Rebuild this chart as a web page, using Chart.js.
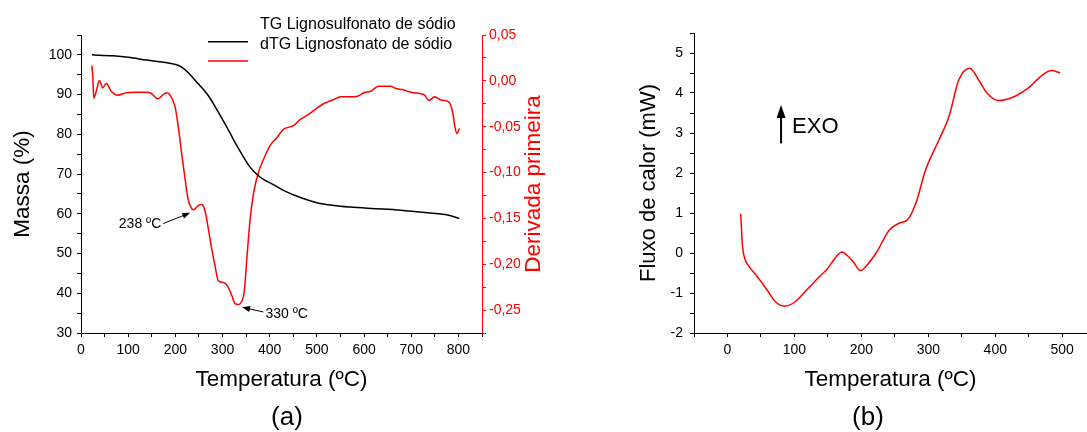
<!DOCTYPE html>
<html>
<head>
<meta charset="utf-8">
<script src="https://cdn.jsdelivr.net/npm/chart.js@4"></script>
<style>
  body { margin: 0; background: #fff; width: 1087px; height: 432px; overflow: hidden; position: relative;
         font-family: "Liberation Sans", Arial, sans-serif; }
  canvas { position: absolute; top: 0; }
  #tga { left: 0; }
  #dsc { left: 560px; }
  .panel { position: absolute; top: 401px; font-size: 26px; line-height: 30px; transform: translateX(-50%); }
</style>
</head>
<body>
<canvas id="tga" width="560" height="432"></canvas>
<canvas id="dsc" width="527" height="432"></canvas>
<div class="panel" style="left:287px">(a)</div>
<div class="panel" style="left:868px">(b)</div>
<script>
const FONT = '"Liberation Sans", Arial, sans-serif';
Chart.defaults.font.family = FONT;
Chart.defaults.color = '#000';

// TG: temperatura (ºC) x massa (%)
const tgTemp = [23, 68, 100, 139, 188, 203, 217, 230, 245, 260, 273, 288, 302, 316, 330, 344, 358, 373, 390, 401,
  429, 465, 500, 536, 570, 607, 640, 678, 706, 740, 777, 802];
const tgMass = [100, 99.75, 99.4, 98.7, 97.9, 97.5, 96.6, 95.2, 93.2, 91.2, 89.2, 86.2, 83.3, 80.3, 77.2, 74.4, 71.8, 69.9, 68.4, 67.8,
  65.9, 64.1, 62.8, 62.1, 61.7, 61.4, 61.2, 60.9, 60.6, 60.2, 59.7, 58.8];

// dTG: derivada primeira
const dtgTemp = [23, 25, 27, 32, 39, 46, 53.5, 64, 78, 96, 120, 139, 149, 163, 172, 181, 188, 199, 206, 213,
  220.6, 227, 233, 238, 243, 248.5, 255.7, 262.8, 270, 277, 284, 291, 302, 312, 319.6, 326.6, 333.6, 339, 346, 351.5,
  358.5, 366, 376, 387, 401, 415, 429, 451, 465, 479, 497, 514, 536, 550, 571, 586, 600, 614, 631, 656,
  667, 681, 699, 720, 727, 738, 749, 763, 780, 788, 793, 797, 802];
const dtgValue = [0.0166, 0.005, -0.019, -0.012, 0.0003, -0.0076, -0.003, -0.0113, -0.0156, -0.013, -0.0125, -0.0124, -0.0138, -0.0196, -0.016, -0.013, -0.0149, -0.0276, -0.049, -0.078,
  -0.107, -0.129, -0.138, -0.1406, -0.139, -0.136, -0.1345, -0.1417, -0.1616, -0.183, -0.2015, -0.218, -0.22, -0.225, -0.234, -0.243, -0.244, -0.242, -0.23, -0.194,
  -0.151, -0.122, -0.1, -0.0855, -0.0703, -0.062, -0.053, -0.0486, -0.042, -0.0377, -0.031, -0.025, -0.0203, -0.0174, -0.0174, -0.0167, -0.013, -0.0113, -0.0059, -0.0059,
  -0.0084, -0.0095, -0.0124, -0.0141, -0.015, -0.0214, -0.0174, -0.021, -0.0232, -0.0348, -0.051, -0.0576, -0.052];

const tgLabels = ['TG Lignosulfonato de sódio', 'dTG Lignosfonato de sódio'];
const peakTemps = [238, 330];
const peakLabels = ['238 ºC', '330 ºC'];

// DSC: fluxo de calor (mW)
const dscTemp = [19.7, 21, 22, 25.6, 32, 44, 59, 71.6, 85, 98.7, 118.5, 138, 148, 163, 171, 178, 187.6, 198.5, 207, 222,
  242, 257, 269, 281.5, 296, 316, 331, 345.6, 362, 375, 387.6, 405, 429.6, 449, 469, 484, 497];
const dscFlux = [0.98, 0.6, 0.25, -0.125, -0.33, -0.58, -0.92, -1.22, -1.33, -1.25, -0.92, -0.58, -0.42, -0.08, 0.025, -0.05, -0.21, -0.44, -0.33, 0.0,
  0.58, 0.75, 0.83, 1.25, 2.08, 2.83, 3.42, 4.33, 4.62, 4.33, 4.0, 3.81, 3.92, 4.12, 4.43, 4.56, 4.5];

const pairs = (xs, ys) => xs.map((x, i) => ({ x: x, y: ys[i] }));

function axisStyle(color) {
  return {
    border: { display: true, color: color, width: 1 },
    grid: { display: true, drawOnChartArea: false, drawTicks: true, tickLength: 4, color: color, tickColor: color }
  };
}

function drawArrow(ctx, x0, y0, x1, y1, head, half, width) {
  const a = Math.atan2(y1 - y0, x1 - x0);
  const bx = x1 - head * Math.cos(a), by = y1 - head * Math.sin(a);
  ctx.save();
  ctx.strokeStyle = '#000';
  ctx.fillStyle = '#000';
  ctx.lineWidth = width;
  ctx.beginPath();
  ctx.moveTo(x0, y0);
  ctx.lineTo(bx, by);
  ctx.stroke();
  ctx.beginPath();
  ctx.moveTo(x1, y1);
  ctx.lineTo(bx + half * Math.sin(a), by - half * Math.cos(a));
  ctx.lineTo(bx - half * Math.sin(a), by + half * Math.cos(a));
  ctx.closePath();
  ctx.fill();
  ctx.restore();
}

// legenda com as amostras de linha abaixo do texto, como no Origin
const tgLegend = {
  id: 'tgLegend',
  afterDraw(chart, args, o) {
    const ctx = chart.ctx;
    ctx.save();
    ctx.font = '16px ' + FONT;
    ctx.textBaseline = 'middle';
    ctx.textAlign = 'left';
    chart.data.datasets.forEach((ds, i) => {
      ctx.fillStyle = '#000';
      ctx.fillText(ds.label, o.textX, o.textY[i]);
      ctx.strokeStyle = ds.borderColor;
      ctx.lineWidth = 1.5;
      ctx.beginPath();
      ctx.moveTo(o.lineX[0], o.lineY[i]);
      ctx.lineTo(o.lineX[1], o.lineY[i]);
      ctx.stroke();
    });
    ctx.restore();
  }
};

// título do eixo da derivada, lido de baixo para cima
const sideTitle = {
  id: 'sideTitle',
  afterDraw(chart, args, o) {
    const ctx = chart.ctx, ca = chart.chartArea;
    ctx.save();
    ctx.translate(o.x, (ca.top + ca.bottom) / 2);
    ctx.rotate(-Math.PI / 2);
    ctx.font = o.size + 'px ' + FONT;
    ctx.fillStyle = o.color;
    ctx.textAlign = 'center';
    ctx.textBaseline = 'middle';
    ctx.fillText(o.text, 0, 0);
    ctx.restore();
  }
};

// setas indicando os picos da dTG
const peakArrows = {
  id: 'peakArrows',
  afterDraw(chart, args, o) {
    const ctx = chart.ctx, xs = chart.scales.x, ys = chart.scales.y2;
    peakTemps.forEach((t, i) => {
      let k = -1;
      dtgTemp.forEach((tt, j) => {
        if (Math.abs(tt - t) <= 10 && (k < 0 || dtgValue[j] < dtgValue[k])) k = j;
      });
      const a = o.arrows[i];
      const tipX = xs.getPixelForValue(dtgTemp[k]) + a.tip[0];
      const tipY = ys.getPixelForValue(dtgValue[k]) + a.tip[1];
      const tailX = tipX + a.tail[0], tailY = tipY + a.tail[1];
      drawArrow(ctx, tailX, tailY, tipX, tipY, 8, 3, 1);
      ctx.save();
      ctx.font = '14px ' + FONT;
      ctx.fillStyle = '#000';
      ctx.textBaseline = 'middle';
      ctx.textAlign = a.align;
      ctx.fillText(peakLabels[i], tailX + a.text[0], tailY + a.text[1]);
      ctx.restore();
    });
  }
};

const exoMark = {
  id: 'exoMark',
  afterDraw(chart, args, o) {
    const ctx = chart.ctx;
    const x = chart.scales.x.getPixelForValue(o.at);
    const y0 = chart.scales.y.getPixelForValue(o.from), y1 = chart.scales.y.getPixelForValue(o.to);
    drawArrow(ctx, x, y0, x, y1, 13, 4.5, 2);
    ctx.save();
    ctx.font = '22px ' + FONT;
    ctx.fillStyle = '#000';
    ctx.textBaseline = 'middle';
    ctx.textAlign = 'left';
    ctx.fillText(o.text, x + 11, (y0 + y1) / 2 + 3);
    ctx.restore();
  }
};

new Chart(document.getElementById('tga'), {
  type: 'line',
  data: {
    datasets: [
      { label: tgLabels[0], data: pairs(tgTemp, tgMass), yAxisID: 'y', borderColor: '#000', borderWidth: 1.5,
        pointRadius: 0, cubicInterpolationMode: 'monotone' },
      { label: tgLabels[1], data: pairs(dtgTemp, dtgValue), yAxisID: 'y2', borderColor: '#ff0000', borderWidth: 1.5,
        pointRadius: 0, cubicInterpolationMode: 'monotone' }
    ]
  },
  options: {
    responsive: false,
    animation: false,
    layout: { padding: { top: 35, left: 0, right: 0, bottom: 0 } },
    plugins: {
      legend: { display: false },
      tooltip: { enabled: false },
      tgLegend: { textX: 260, textY: [25, 45], lineX: [208, 248], lineY: [41.7, 61] },
      sideTitle: { text: 'Derivada primeira', x: 534, size: 22.5, color: '#ff0000' },
      peakArrows: {
        arrows: [
          { tip: [-3, 3], tail: [-27, 10.8], text: [-2, 0.5], align: 'right' },
          { tip: [3.7, 2.7], tail: [21.3, 4.7], text: [2, 2], align: 'left' }
        ]
      }
    },
    scales: {
      x: {
        type: 'linear', min: 0, max: 850, ...axisStyle('#000'),
        ticks: { stepSize: 50, autoSkip: false, maxRotation: 0, padding: 5, font: { size: 14 },
                 callback: v => (v % 100 === 0 && v <= 800 ? v : '') },
        title: { display: true, text: 'Temperatura (ºC)', font: { size: 22.5 }, padding: { top: 0, bottom: 39 } },
        afterFit: s => { s.height = 99; }
      },
      y: {
        type: 'linear', position: 'left', min: 30, max: 105, ...axisStyle('#000'),
        ticks: { stepSize: 5, autoSkip: false, padding: 5, font: { size: 14 },
                 callback: v => (v % 10 === 0 && v <= 100 ? v : '') },
        title: { display: true, text: 'Massa (%)', font: { size: 22.5 }, padding: { top: 9, bottom: 0 } },
        afterFit: s => { s.width = 81; }
      },
      y2: {
        type: 'linear', position: 'right', min: -0.275, max: 0.05, ...axisStyle('#ff0000'),
        ticks: { stepSize: 0.025, autoSkip: false, padding: 3, color: '#ff0000', font: { size: 14 },
                 callback: v => {
                   const m = Math.round(v * 1000);
                   if (m % 50 !== 0) return '';
                   return (m / 1000).toFixed(2).replace('.', ',').replace('-0,00', '0,00');
                 } },
        afterFit: s => { s.width = 78; }
      }
    }
  },
  plugins: [tgLegend, sideTitle, peakArrows]
});

new Chart(document.getElementById('dsc'), {
  type: 'line',
  data: {
    datasets: [
      { label: 'DSC', data: pairs(dscTemp, dscFlux), borderColor: '#ff0000', borderWidth: 1.5,
        pointRadius: 0, cubicInterpolationMode: 'monotone' }
    ]
  },
  options: {
    responsive: false,
    animation: false,
    layout: { padding: { top: 33, left: 0, right: 0, bottom: 0 } },
    plugins: {
      legend: { display: false },
      tooltip: { enabled: false },
      exoMark: { at: 80, from: 2.74, to: 3.7, text: 'EXO' }
    },
    scales: {
      x: {
        type: 'linear', min: -50, max: 537, ...axisStyle('#000'),
        ticks: { stepSize: 50, includeBounds: false, autoSkip: false, maxRotation: 0, padding: 5, font: { size: 14 },
                 callback: v => (Math.round(v) % 100 === 0 ? v : '') },
        title: { display: true, text: 'Temperatura (ºC)', font: { size: 22.5 }, padding: { top: 0, bottom: 39 } },
        afterFit: s => { s.height = 99; }
      },
      y: {
        type: 'linear', position: 'left', min: -2, max: 5.5, ...axisStyle('#000'),
        ticks: { stepSize: 0.5, autoSkip: false, padding: 7, font: { size: 14 },
                 callback: v => (Number.isInteger(v) ? v : '') },
        title: { display: true, text: 'Fluxo de calor (mW)', font: { size: 22 }, padding: { top: 76, bottom: 0 } },
        afterFit: s => { s.width = 134; }
      }
    }
  },
  plugins: [exoMark]
});
</script>
</body>
</html>
